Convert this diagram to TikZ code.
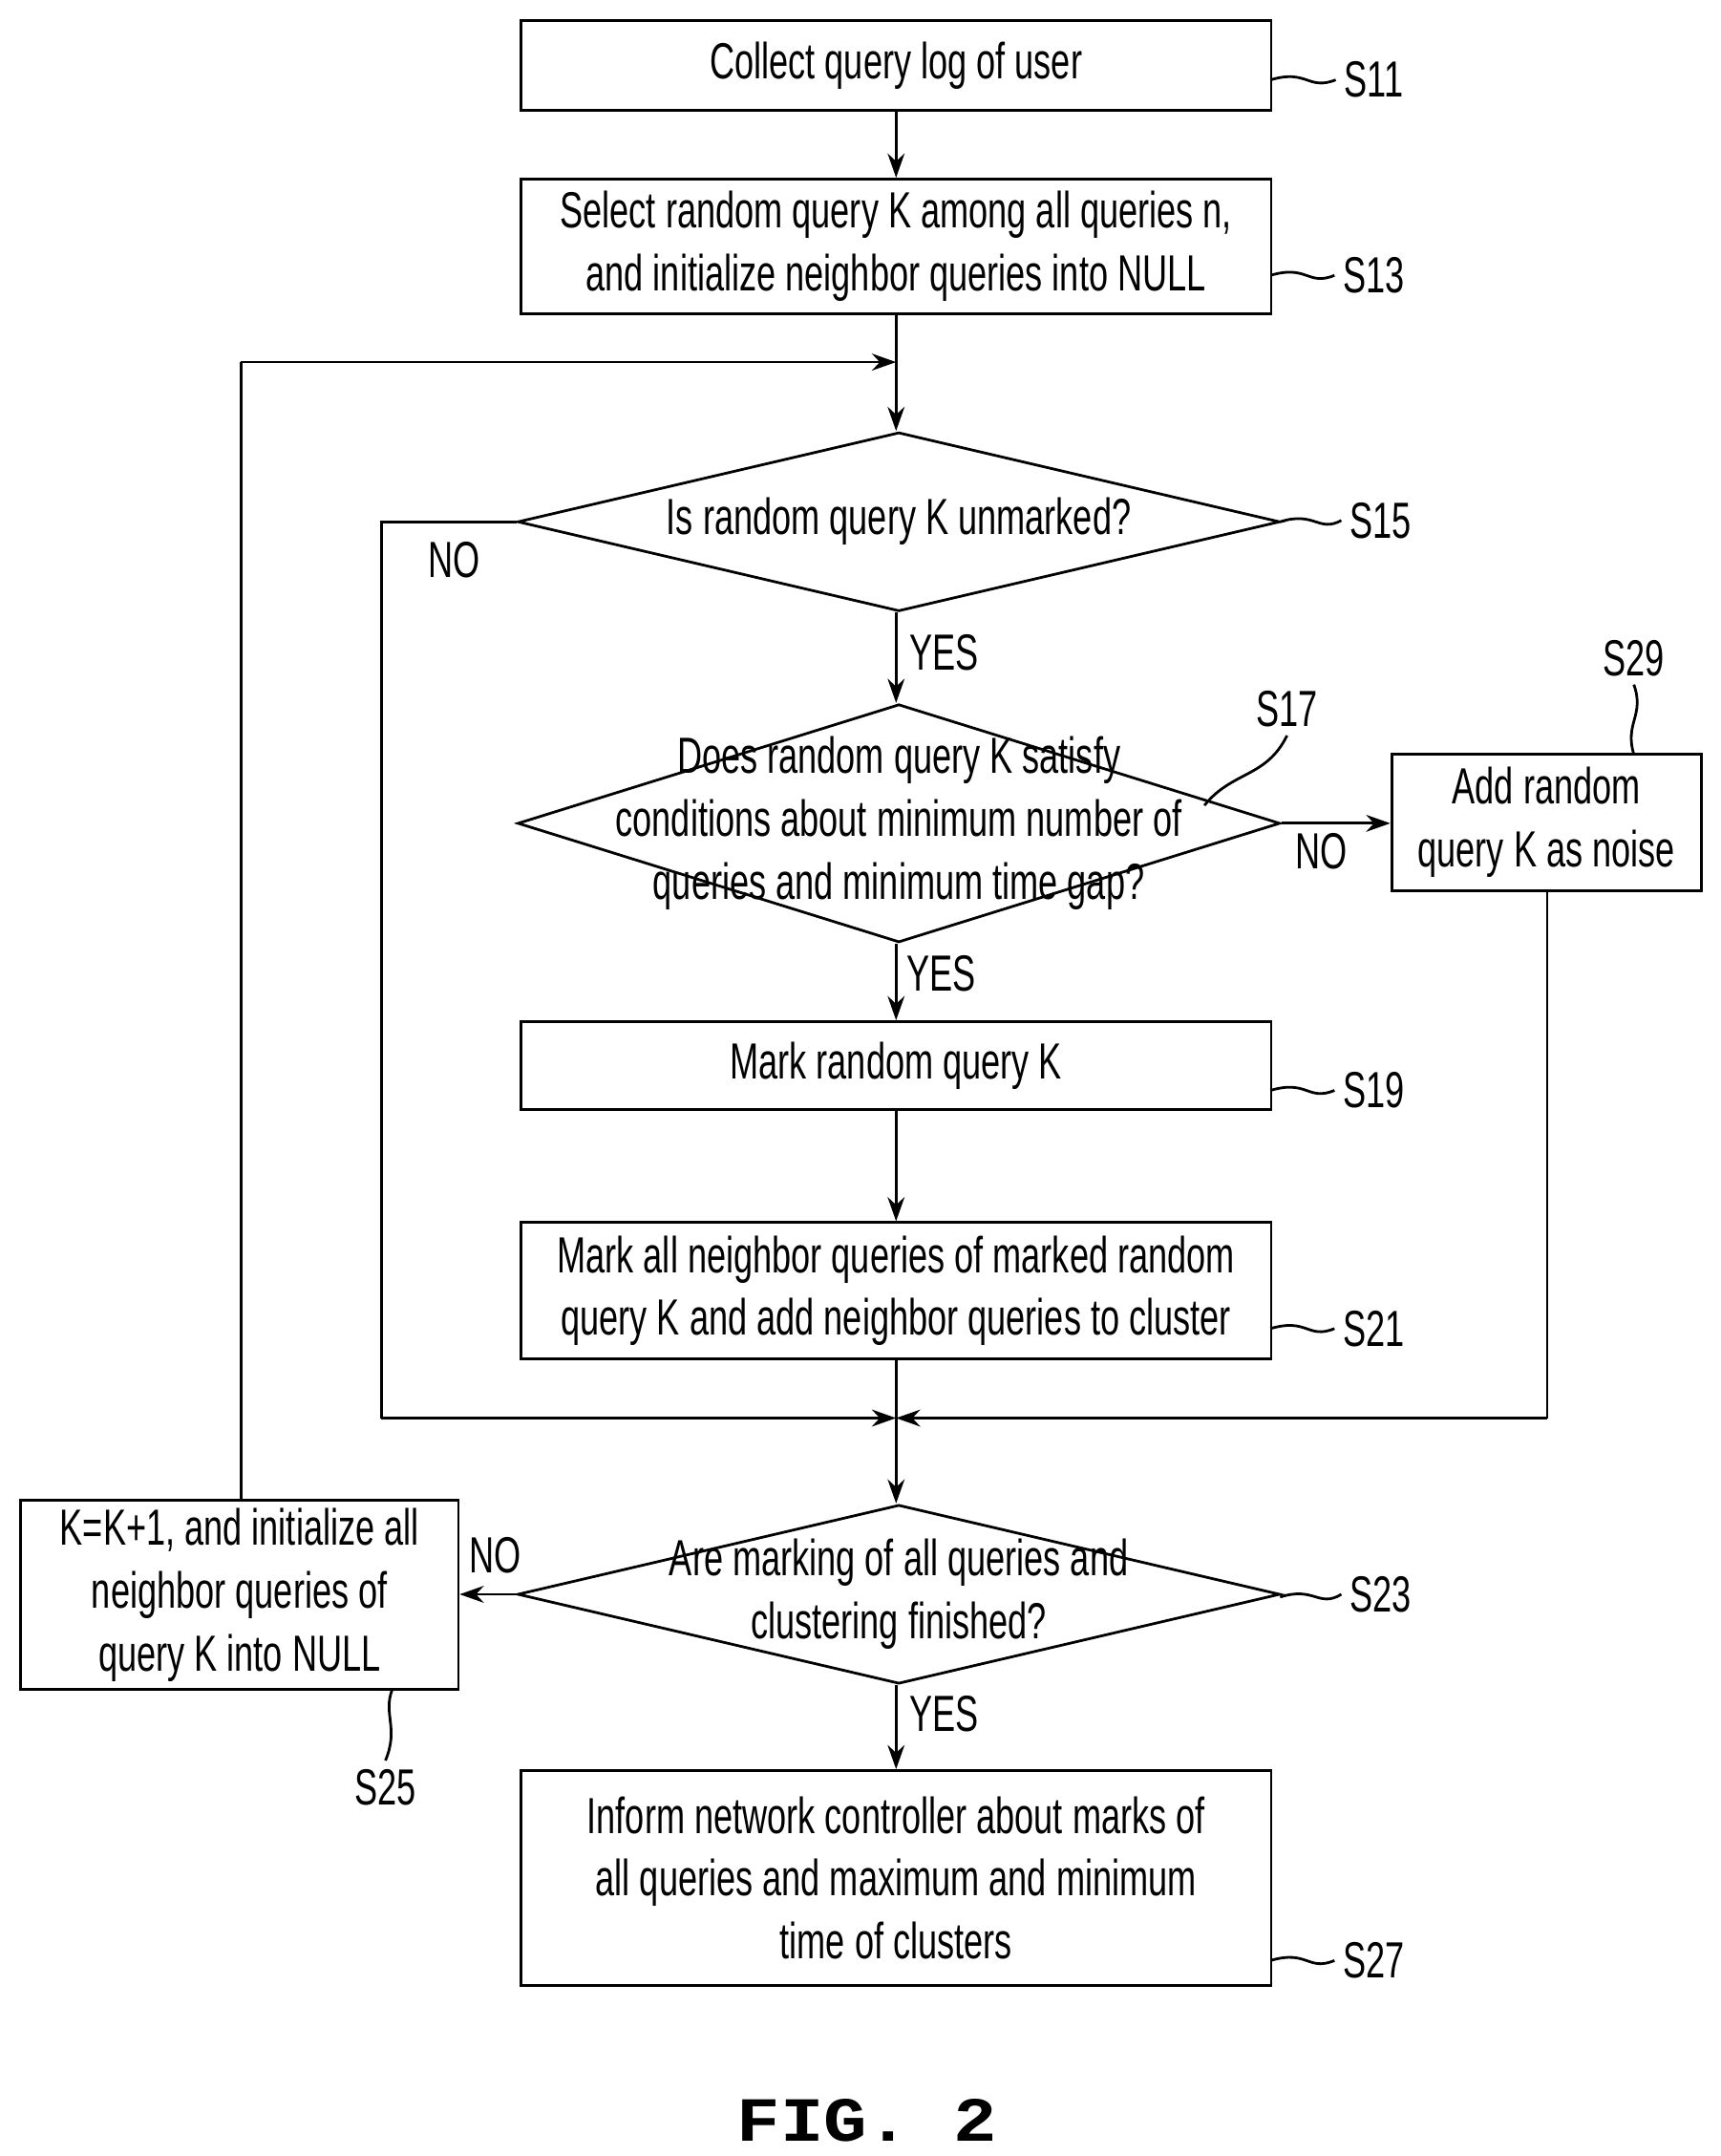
\documentclass[tikz,border=0pt]{standalone}
\usepackage{fontspec}
\setmainfont{Liberation Sans}[FakeStretch=0.68]
\newfontfamily\figfont{Liberation Mono}[FakeStretch=1.15]
\usetikzlibrary{shapes.geometric,arrows.meta}
\tikzset{
  box/.style={draw, line width=1.1pt, minimum width=10.9cm, align=center, font=\fontsize{21}{26}\selectfont},
  dia/.style={draw, line width=1.1pt, diamond, minimum width=11.08cm, minimum height=2.6cm, inner sep=0pt},
  dtext/.style={align=center, font=\fontsize{21}{26}\selectfont},
  tag/.style={font=\fontsize{21}{26}\selectfont},
  flow/.style={line width=1.1pt, -{Stealth[length=10pt,width=7pt]}},
  wire/.style={line width=1.1pt}
}
\begin{document}
\begin{tikzpicture}[x=0.02cm, y=-0.02cm]
	\useasboundingbox (0,0) rectangle (1250,1566);
	\node[box, minimum height=1.3cm] (s11) at (651,47.5) {Collect query log of user};
	\node[box, minimum height=1.96cm] (s13) at (651,179) {Select random query K among all queries n,\\and initialize neighbor queries into NULL};
	\node[dia, label={[dtext]center:Is random query K unmarked?}] (s15) at (653,379) {};
	\node[dia, minimum height=3.46cm, label={[dtext]center:Does random query K satisfy\\conditions about minimum number of\\queries and minimum time gap?}] (s17) at (653,598) {};
	\node[box, minimum width=4.5cm, minimum height=1.98cm] (s29) at (1123.5,597.5) {Add random\\query K as noise};
	\node[box, minimum height=1.28cm] (s19) at (651,774) {Mark random query K};
	\node[box, minimum height=1.98cm] (s21) at (651,937.5) {Mark all neighbor queries of marked random\\query K and add neighbor queries to cluster};
	\node[dia, label={[dtext]center:Are marking of all queries and\\clustering finished?}] (s23) at (653,1158) {};
	\node[box, minimum width=6.36cm, minimum height=2.74cm] (s25) at (174,1158.5) {K=K+1, and initialize all\\neighbor queries of\\query K into NULL};
	\node[box, minimum height=3.12cm] (s27) at (651,1364) {Inform network controller about marks of\\all queries and maximum and minimum\\time of clusters};
	% junction points
	\coordinate (top) at (651,263);
	\coordinate (join) at (651,1030);
	\coordinate (loopup) at (175,263);
	\coordinate (lft) at (277,379);
	\coordinate (lftdn) at (277,1030);
	\coordinate (rgt) at (1124,1030);
	% main flow
	\draw[flow] (s11) -- (s11 |- s13.north);
	\draw[flow] (s13.south -| s11) -- (s15.north -| s11);
	\draw[flow] (s15.south -| s11) -- (s17.north -| s11);
	\draw[flow] (s17.south -| s11) -- (s19.north);
	\draw[flow] (s19) -- (s21.north);
	\draw[wire] (s21.south) -- (join);
	\draw[flow] (join) -- (s23.north -| s11);
	\draw[flow] (s23.south -| s11) -- (s27.north);
	\draw[flow] (s17.east) -- (s29.west |- s17.east);
	\draw[flow] (s23.west) -- (s25.east |- s23.west);
	\draw[wire] (s15.west) -- (lft) -- (lftdn);
	\draw[flow] (lftdn) -- (join);
	\draw[wire] (s29.south -| rgt) -- (rgt);
	\draw[flow] (rgt) -- (join);
	\draw[wire] (s25.north -| loopup) -- (loopup);
	\draw[flow] (loopup) -- (top);
	% answers
	\node[tag] (y15) at (686,474) {YES};
	\node[tag] (y17) at (684,707) {YES};
	\node[tag] (y23) at (686,1245) {YES};
	\node[tag] (n15) at (330,407) {NO};
	\node[tag] (n17) at (960,618) {NO};
	\node[tag] (n23) at (360,1130) {NO};
	% step tags
	\node[tag] (t11) at (998,58) {S11};
	\node[tag] (t13) at (998,200) {S13};
	\node[tag] (t15) at (1003,378) {S15};
	\node[tag] (t17) at (935,515) {S17};
	\node[tag] (t29) at (1187,478) {S29};
	\node[tag] (t19) at (998,792) {S19};
	\node[tag] (t21) at (998,965) {S21};
	\node[tag] (t23) at (1003,1158) {S23};
	\node[tag] (t25) at (280,1298) {S25};
	\node[tag] (t27) at (998,1424) {S27};
	\draw[wire] (923,58) .. controls (950,50) and (950,66) .. (t11.west);
	\draw[wire] (923,200) .. controls (950,192) and (950,208) .. (t13.west);
	\draw[wire] (930,379) .. controls (955,371) and (958,387) .. (t15.west);
	\draw[wire] (875,585) .. controls (895,560) and (920,565) .. (t17.south);
	\draw[wire] (1187,548) .. controls (1180,525) and (1195,520) .. (t29.south);
	\draw[wire] (923,792) .. controls (950,784) and (950,800) .. (t19.west);
	\draw[wire] (923,965) .. controls (950,957) and (950,973) .. (t21.west);
	\draw[wire] (930,1160) .. controls (955,1152) and (958,1168) .. (t23.west);
	\draw[wire] (285,1227) .. controls (278,1245) and (290,1255) .. (t25.north);
	\draw[wire] (923,1424) .. controls (950,1416) and (950,1432) .. (t27.west);
	\node[font=\figfont\bfseries\fontsize{26}{30}\selectfont] (fig) at (630,1540) {FIG. 2};
\end{tikzpicture}
\end{document}
